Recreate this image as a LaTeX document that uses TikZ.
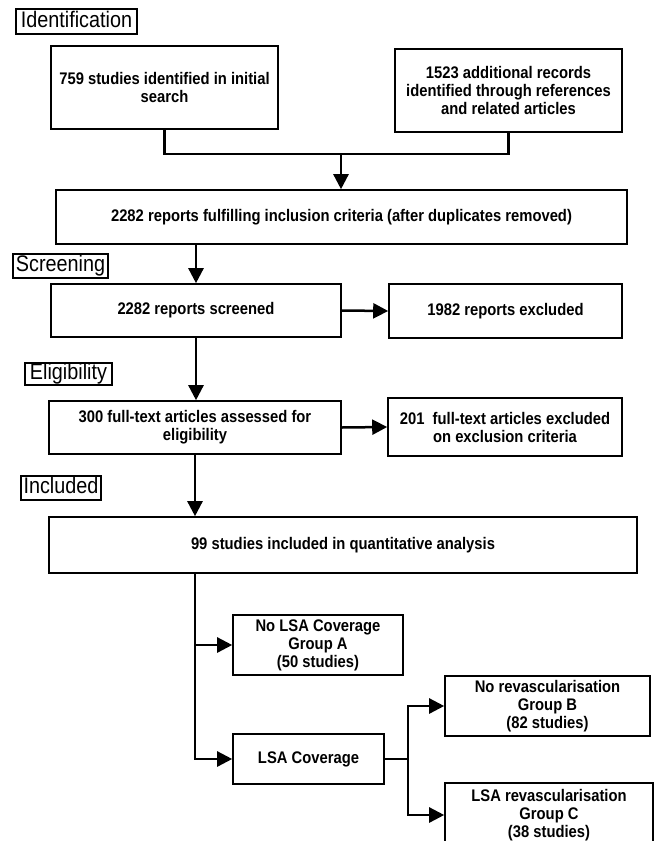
\documentclass[tikz,border=0pt]{standalone}
\usepackage{fontspec}
\setmainfont{Liberation Sans}
\newfontfamily\narrowfont[FakeStretch=0.88]{Liberation Sans}
\usetikzlibrary{arrows.meta}
\begin{document}
\begin{tikzpicture}[x=1pt,y=-1pt,
  box/.style={draw, line width=1.6pt, inner sep=0pt, align=center,
    font=\narrowfont\bfseries\fontsize{16.8}{18}\selectfont},
  stage/.style={draw, line width=1.1pt, inner sep=0pt,
    font=\narrowfont\fontsize{22.5}{24}\selectfont, text height=15.5pt, text depth=4.5pt},
  conn/.style={line width=2.5pt},
  arr/.style={conn, -{Triangle[length=15pt,width=15pt]}}
]
\useasboundingbox (0,0) rectangle (656,841);

% stage labels
\node[stage, minimum width=121pt, minimum height=25pt] (idl)  at (76.5,21.5) {Identification};
\node[stage, minimum width=95pt,  minimum height=24pt] (scr)  at (60.5,266)  {Screening};
\node[stage, minimum width=87pt,  minimum height=22pt] (elig) at (68.5,374)  {Eligibility};
\node[stage, minimum width=80pt,  minimum height=24pt] (incl) at (61,488)    {Included};

% boxes
\node[box, minimum width=227pt, minimum height=83pt] (b1) at (164.5,87.5)
  {759 studies identified in initial\\search};
\node[box, minimum width=227pt, minimum height=83pt] (b2) at (508.5,90.5)
  {1523 additional records\\identified through references\\and related articles};
\node[box, minimum width=571pt, minimum height=54pt] (b3) at (341.5,217)
  {2282 reports fulfilling inclusion criteria (after duplicates removed)};
\node[box, minimum width=290pt, minimum height=53pt] (b4) at (196,310.5)
  {2282 reports screened};
\node[box, minimum width=233pt, minimum height=54pt] (b5) at (505.5,311)
  {1982 reports excluded};
\node[box, minimum width=292pt, minimum height=53pt] (b6) at (195,427.5)
  {300 full-text articles assessed for\\eligibility};
\node[box, minimum width=234pt, minimum height=58pt] (b7) at (505,427)
  {201\ \ full-text articles excluded\\on exclusion criteria};
\node[box, minimum width=588pt, minimum height=56pt] (b8) at (343,545)
  {99 studies included in quantitative analysis};
\node[box, minimum width=170pt, minimum height=60pt] (bA) at (318,645)
  {No LSA Coverage\\Group A\\(50 studies)};
\node[box, minimum width=151pt, minimum height=50pt] (bL) at (308.5,759)
  {LSA Coverage};
\node[box, minimum width=205pt, minimum height=60pt] (bB) at (547.5,706)
  {No revascularisation\\Group B\\(82 studies)};
\node[box, minimum width=208pt, minimum height=64pt] (bC) at (549,815)
  {LSA revascularisation\\Group C\\(38 studies)};

% junctions
\coordinate (j1) at (341,154);
\coordinate (s1) at (195,573);
\coordinate (s2) at (408,759);

% connectors
\draw[conn] (b1.south) |- (j1);
\draw[conn] (b2.south) |- (j1);
\draw[arr] (j1) -- (j1 |- b3.north);
\draw[arr] (b4.north |- b3.south) -- (b4.north);
\draw[arr] (b4.east) -- (b5.west);
\draw[arr] (b4.south) -- (b4.south |- b6.north);
\draw[arr] (b6.east) -- (b7.west);
\draw[arr] (b6.south) -- (b6.south |- b8.north);
\draw[arr] (s1) |- (bL.west);
\draw[arr] (s1 |- bA.west) -- (bA.west);
\draw[conn] (bL.east) -- (s2);
\draw[arr] (s2) |- (bB.west);
\draw[arr] (s2) |- (bC.west);
\end{tikzpicture}
\end{document}
